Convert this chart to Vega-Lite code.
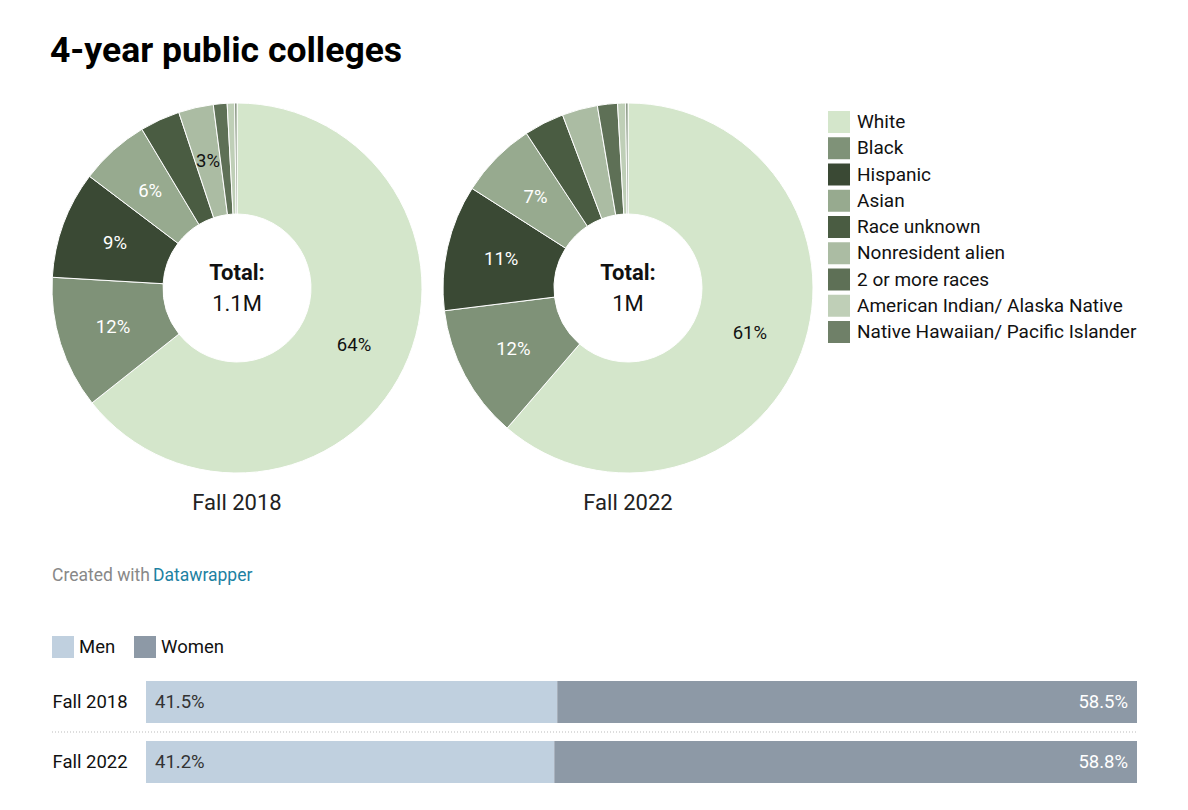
{
  "$schema": "https://vega.github.io/schema/vega-lite/v6.json",
  "padding": {"left": 50, "top": 33, "right": 40, "bottom": 28},
  "background": "white",
  "config": {"font": "Roboto", "view": {"stroke": null}},
  "title": {"text": "4-year public colleges", "anchor": "start", "fontSize": 35.5, "fontWeight": "bold", "color": "#000", "offset": 32, "font": "Roboto"},
  "spacing": 52,
  "vconcat": [
    {
      "data": {"values": [
        {"year": "Fall 2018", "race": "White", "rank": 1, "pct": 64.4, "label": "64%", "total": "1.1M"},
        {"year": "Fall 2018", "race": "Black", "rank": 2, "pct": 11.6, "label": "12%", "total": "1.1M"},
        {"year": "Fall 2018", "race": "Hispanic", "rank": 3, "pct": 9.4, "label": "9%", "total": "1.1M"},
        {"year": "Fall 2018", "race": "Asian", "rank": 4, "pct": 6.1, "label": "6%", "total": "1.1M"},
        {"year": "Fall 2018", "race": "Race unknown", "rank": 5, "pct": 3.5, "label": "", "total": "1.1M"},
        {"year": "Fall 2018", "race": "Nonresident alien", "rank": 6, "pct": 3.05, "label": "3%", "total": "1.1M"},
        {"year": "Fall 2018", "race": "2 or more races", "rank": 7, "pct": 1.2, "label": "", "total": "1.1M"},
        {"year": "Fall 2018", "race": "American Indian/ Alaska Native", "rank": 8, "pct": 0.65, "label": "", "total": "1.1M"},
        {"year": "Fall 2018", "race": "Native Hawaiian/ Pacific Islander", "rank": 9, "pct": 0.2, "label": "", "total": "1.1M"},
        {"year": "Fall 2022", "race": "White", "rank": 1, "pct": 61.3, "label": "61%", "total": "1M"},
        {"year": "Fall 2022", "race": "Black", "rank": 2, "pct": 11.7, "label": "12%", "total": "1M"},
        {"year": "Fall 2022", "race": "Hispanic", "rank": 3, "pct": 11.0, "label": "11%", "total": "1M"},
        {"year": "Fall 2022", "race": "Asian", "rank": 4, "pct": 6.7, "label": "7%", "total": "1M"},
        {"year": "Fall 2022", "race": "Race unknown", "rank": 5, "pct": 3.5, "label": "", "total": "1M"},
        {"year": "Fall 2022", "race": "Nonresident alien", "rank": 6, "pct": 3.1, "label": "", "total": "1M"},
        {"year": "Fall 2022", "race": "2 or more races", "rank": 7, "pct": 1.75, "label": "", "total": "1M"},
        {"year": "Fall 2022", "race": "American Indian/ Alaska Native", "rank": 8, "pct": 0.7, "label": "", "total": "1M"},
        {"year": "Fall 2022", "race": "Native Hawaiian/ Pacific Islander", "rank": 9, "pct": 0.2, "label": "", "total": "1M"}
      ]},
      "facet": {"column": {"field": "year", "type": "nominal", "header": {"title": null, "labelOrient": "bottom", "labelFontSize": 22, "labelPadding": 18, "labelColor": "#222", "labelFont": "Roboto"}}},
      "spacing": 17,
      "spec": {
        "width": 370,
        "height": 370,
        "layer": [
          {
            "mark": {"type": "arc", "radius": 185, "radius2": 74, "stroke": "#fff", "strokeWidth": 1},
            "encoding": {
              "theta": {"field": "pct", "type": "quantitative", "stack": "normalize"},
              "order": {"field": "rank", "type": "quantitative"},
              "color": {
                "field": "race", "type": "nominal",
                "scale": {
                  "domain": ["White", "Black", "Hispanic", "Asian", "Race unknown", "Nonresident alien", "2 or more races", "American Indian/ Alaska Native", "Native Hawaiian/ Pacific Islander"],
                  "range": ["#d4e6cb", "#7f9278", "#3a4934", "#97aa8f", "#4a5c42", "#abbca3", "#5e7056", "#bfcfb7", "#6f8068"]
                },
                "legend": {"title": null, "orient": "right", "offset": 5, "padding": 8, "symbolType": "square", "symbolSize": 484, "symbolStrokeWidth": 0, "symbolOpacity": 1, "labelFontSize": 19, "labelFont": "Roboto", "labelColor": "#111", "labelOffset": 7, "rowPadding": 4.25, "labelLimit": 400}
              }
            }
          },
          {
            "mark": {"type": "text", "radius": 130, "fontSize": 18.5, "font": "Roboto"},
            "encoding": {
              "theta": {"field": "pct", "type": "quantitative", "stack": "normalize"},
              "order": {"field": "rank", "type": "quantitative"},
              "text": {"field": "label", "type": "nominal"},
              "color": {"condition": {"test": "datum.race === 'White' || datum.race === 'Nonresident alien'", "value": "#111"}, "value": "#ffffff"}
            }
          },
          {
            "transform": [{"filter": "datum.race === 'White'"}],
            "mark": {"type": "text", "text": "Total:", "fontWeight": "bold", "fontSize": 22, "dy": -8, "baseline": "alphabetic", "color": "#111"},
            "encoding": {}
          },
          {
            "transform": [{"filter": "datum.race === 'White'"}],
            "mark": {"type": "text", "fontSize": 22, "dy": 23, "baseline": "alphabetic", "color": "#111"},
            "encoding": {"text": {"field": "total", "type": "nominal"}}
          }
        ]
      }
    },
    {
      "width": 300,
      "height": 17,
      "data": {"values": [{"lead": "Created with", "site": "Datawrapper"}]},
      "layer": [
        {"mark": {"type": "text", "align": "left", "baseline": "middle", "fontSize": 17.5, "color": "#888888"}, "encoding": {"x": {"value": 0}, "text": {"field": "lead"}}},
        {"mark": {"type": "text", "align": "left", "baseline": "middle", "fontSize": 17.5, "color": "#1d81a2", "dx": 101}, "encoding": {"x": {"value": 0}, "text": {"field": "site"}}}
      ]
    },
    {
      "width": 1085,
      "height": 102,
      "data": {"values": [
        {"year": "Fall 2018", "gender": "Men", "pct": 0.415},
        {"year": "Fall 2018", "gender": "Women", "pct": 0.585},
        {"year": "Fall 2022", "gender": "Men", "pct": 0.412},
        {"year": "Fall 2022", "gender": "Women", "pct": 0.588}
      ]},
      "layer": [
        {
          "mark": {"type": "bar"},
          "encoding": {
            "y": {"field": "year", "type": "nominal", "scale": {"paddingInner": 0.3, "paddingOuter": 0}, "axis": {"title": null, "domain": false, "ticks": false, "tickSize": 0, "grid": false, "labelAlign": "left", "labelPadding": 0, "labelFontSize": 18.5, "labelColor": "#111", "labelFont": "Roboto"}},
            "x": {"field": "pct", "type": "quantitative", "stack": "zero", "scale": {"domain": [0, 1], "nice": false, "range": [94, 1085]}, "axis": null},
            "order": {"field": "gender", "type": "nominal"},
            "color": {"field": "gender", "type": "nominal", "scale": {"domain": ["Men", "Women"], "range": ["#c0d0df", "#8d99a6"]},
              "legend": {"title": null, "orient": "none", "legendX": 0, "legendY": -45, "direction": "horizontal", "symbolType": "square", "symbolSize": 484, "symbolStrokeWidth": 0, "symbolOpacity": 1, "labelFontSize": 18.5, "labelFont": "Roboto", "labelColor": "#111", "labelOffset": 5, "columnPadding": 18}}
          }
        },
        {
          "transform": [{"filter": "datum.gender === 'Men'"}],
          "mark": {"type": "text", "align": "left", "dx": 9, "fontSize": 18.5, "color": "#333333"},
          "encoding": {"y": {"field": "year", "type": "nominal"}, "x": {"datum": 0}, "text": {"field": "pct", "type": "quantitative", "format": ".1%"}}
        },
        {
          "transform": [{"filter": "datum.gender === 'Women'"}],
          "mark": {"type": "text", "align": "right", "dx": -9, "fontSize": 18.5, "color": "#ffffff"},
          "encoding": {"y": {"field": "year", "type": "nominal"}, "x": {"datum": 1}, "text": {"field": "pct", "type": "quantitative", "format": ".1%"}}
        },
        {
          "transform": [{"filter": "datum.gender === 'Men' && datum.year === 'Fall 2018'"}],
          "mark": {"type": "rule", "strokeDash": [1, 2], "color": "#bbbbbb", "strokeWidth": 1, "yOffset": 9, "xOffset": -94},
          "encoding": {"y": {"field": "year", "type": "nominal", "bandPosition": 1}, "x": {"datum": 0}, "x2": {"datum": 1}}
        }
      ]
    }
  ],
  "resolve": {"scale": {"color": "independent"}, "legend": {"color": "independent"}}
}
